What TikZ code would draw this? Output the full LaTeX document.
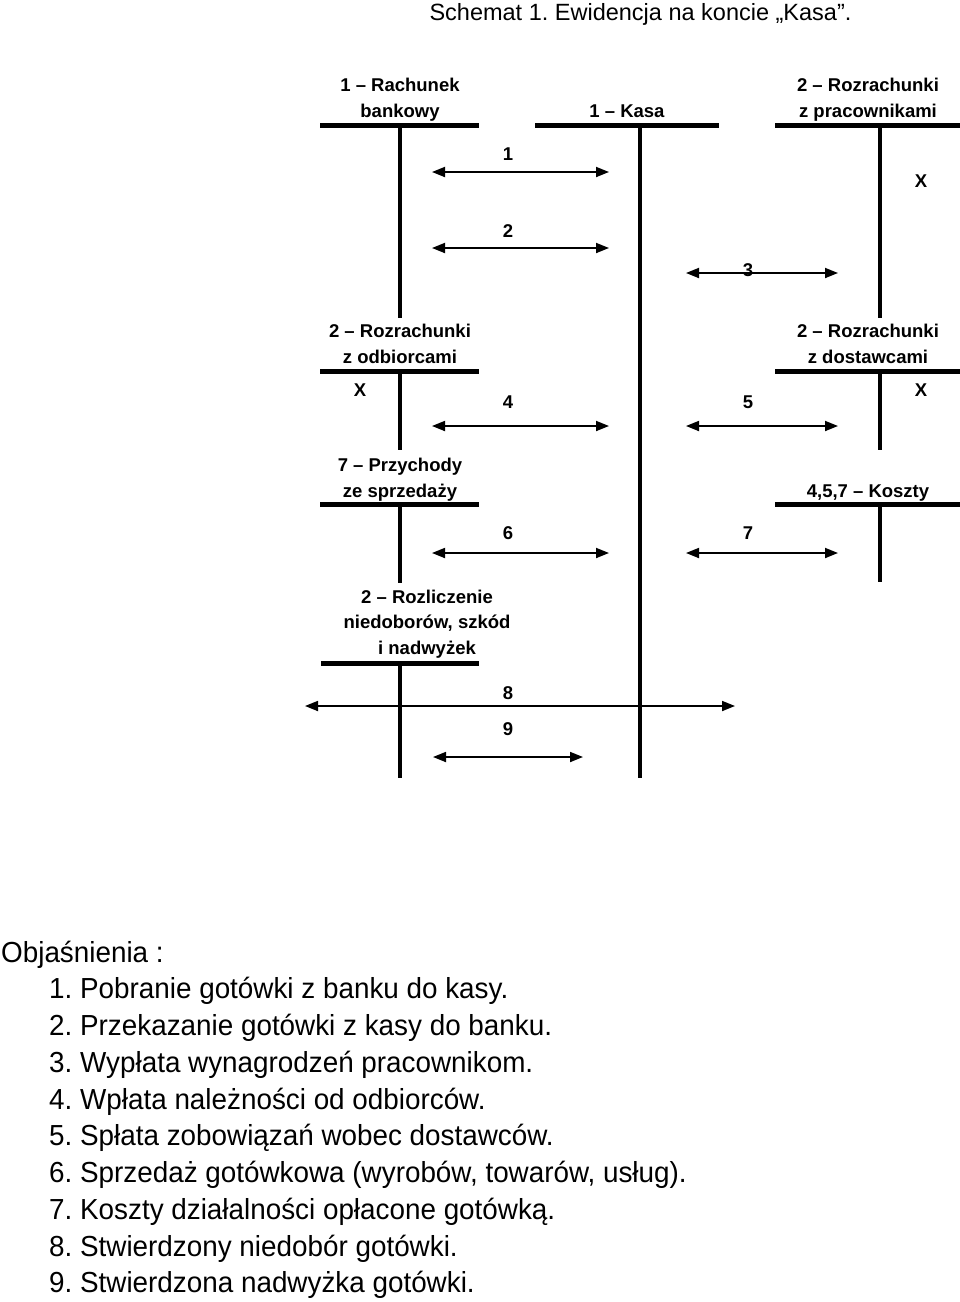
\documentclass[tikz,border=0pt]{standalone}
\usepackage{fontspec}
\setmainfont{Liberation Sans}
\newfontfamily\legendfont{Liberation Sans}[FakeStretch=0.96]
\usetikzlibrary{arrows.meta}
\frenchspacing
\tikzset{
  bar/.style={line width=5pt},
  stem/.style={line width=4pt},
  flow/.style={line width=1.8pt,{Triangle[length=13pt,width=10pt]}-{Triangle[length=13pt,width=10pt]}},
  acct/.style={font=\bfseries\fontsize{18.5}{25.5}\selectfont,align=center,anchor=base,inner sep=0pt},
  num/.style={font=\bfseries\fontsize{18.5}{22}\selectfont,anchor=base,inner sep=0pt},
  legend/.style={font=\legendfont\fontsize{29}{36.75}\selectfont,anchor=base west,inner sep=0pt},
}
\begin{document}
\frenchspacing
\begin{tikzpicture}[x=1pt,y=-1pt]
\useasboundingbox (0,0) rectangle (960,1302);
% title
\node[font=\fontsize{23.5}{28}\selectfont,anchor=base,inner sep=0pt] (title) at (640.5,20) {Schemat 1. Ewidencja na koncie „Kasa”.};
% account names (anchor = baseline of the last line)
\node[acct] (bankL) at (400,117) {1 – Rachunek\\bankowy};
\node[acct] (kasaL) at (627,117) {1 – Kasa};
\node[acct] (pracL) at (868,117) {2 – Rozrachunki\\z pracownikami};
\node[acct] (odbL) at (400,363) {2 – Rozrachunki\\z odbiorcami};
\node[acct] (dostL) at (868,363) {2 – Rozrachunki\\z dostawcami};
\node[acct] (przL) at (400,497) {7 – Przychody\\ze sprzedaży};
\node[acct] (koszL) at (868,497) {4,5,7 – Koszty};
\node[acct] (rozL) at (427,654) {2 – Rozliczenie\\niedoborów, szkód\\i nadwyżek};
% T-accounts
\coordinate (bankA) at (320,125); \coordinate (bankB) at (479,125);
\coordinate (bankT) at (400,125); \coordinate (bankE) at (400,318);
\coordinate (kasaA) at (535,125); \coordinate (kasaB) at (719,125);
\coordinate (kasaT) at (640,125); \coordinate (kasaE) at (640,778);
\coordinate (pracA) at (775,125); \coordinate (pracB) at (960,125);
\coordinate (pracT) at (880,125); \coordinate (pracE) at (880,318);
\coordinate (odbA) at (320,371); \coordinate (odbB) at (479,371);
\coordinate (odbT) at (400,371); \coordinate (odbE) at (400,450);
\coordinate (dostA) at (775,371); \coordinate (dostB) at (960,371);
\coordinate (dostT) at (880,371); \coordinate (dostE) at (880,450);
\coordinate (przA) at (320,504); \coordinate (przB) at (479,504);
\coordinate (przT) at (400,504); \coordinate (przE) at (400,583);
\coordinate (koszA) at (775,504); \coordinate (koszB) at (960,504);
\coordinate (koszT) at (880,504); \coordinate (koszE) at (880,582);
\coordinate (rozA) at (321,663); \coordinate (rozB) at (479,663);
\coordinate (rozT) at (400,663); \coordinate (rozE) at (400,778);
\foreach \a in {bank,kasa,prac,odb,dost,prz,kosz,roz}{
  \draw[bar] (\a A) -- (\a B);
  \draw[stem] (\a T) -- (\a E);
}
% X marks
\node[num] (x1) at (921,187) {X};
\node[num] (x2) at (360,396) {X};
\node[num] (x3) at (921,396) {X};
% flows
\coordinate (f1a) at (432,172); \coordinate (f1b) at (609,172);
\coordinate (f2a) at (432,248); \coordinate (f2b) at (609,248);
\coordinate (f3a) at (686,273); \coordinate (f3b) at (838,273);
\coordinate (f4a) at (432,426); \coordinate (f4b) at (609,426);
\coordinate (f5a) at (686,426); \coordinate (f5b) at (838,426);
\coordinate (f6a) at (432,553); \coordinate (f6b) at (609,553);
\coordinate (f7a) at (686,553); \coordinate (f7b) at (838,553);
\coordinate (f8a) at (305,706); \coordinate (f8b) at (735,706);
\coordinate (f9a) at (433,757); \coordinate (f9b) at (583,757);
\foreach \i in {1,...,9}{ \draw[flow] (f\i a) -- (f\i b); }
\node[num] (n1) at (508,160) {1};
\node[num] (n2) at (508,237) {2};
\node[num] (n3) at (748,276) {3};
\node[num] (n4) at (508,408) {4};
\node[num] (n5) at (748,408) {5};
\node[num] (n6) at (508,539) {6};
\node[num] (n7) at (748,539) {7};
\node[num] (n8) at (508,699) {8};
\node[num] (n9) at (508,735) {9};
% legend
\node[legend] (leg0) at (1,962) {Objaśnienia :};
\node[legend] (leg1) at (49,998.75) {1. Pobranie gotówki z banku do kasy.};
\node[legend] (leg2) at (49,1035.5) {2. Przekazanie gotówki z kasy do banku.};
\node[legend] (leg3) at (49,1072.25) {3. Wypłata wynagrodzeń pracownikom.};
\node[legend] (leg4) at (49,1109) {4. Wpłata należności od odbiorców.};
\node[legend] (leg5) at (49,1145.75) {5. Spłata zobowiązań wobec dostawców.};
\node[legend] (leg6) at (49,1182.5) {6. Sprzedaż gotówkowa (wyrobów, towarów, usług).};
\node[legend] (leg7) at (49,1219.25) {7. Koszty działalności opłacone gotówką.};
\node[legend] (leg8) at (49,1256) {8. Stwierdzony niedobór gotówki.};
\node[legend] (leg9) at (49,1292.75) {9. Stwierdzona nadwyżka gotówki.};
\end{tikzpicture}
\end{document}
